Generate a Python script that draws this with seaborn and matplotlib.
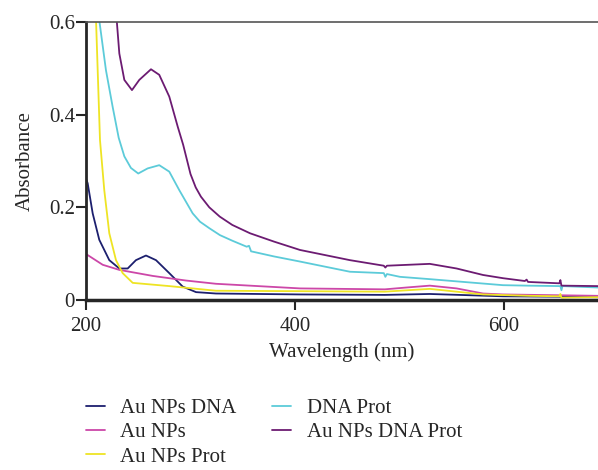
import pandas as pd
import seaborn as sns
import matplotlib.pyplot as plt

# values (wavelength nm, absorbance)
wl_dna = [200, 201.6, 206.4, 212.7, 222.3, 231.9, 239.9, 247.8, 257.4, 267, 279.7, 292.5,
          305.3, 324.4, 405, 486, 529, 599, 655, 690]
abs_dna = [0.262, 0.252, 0.187, 0.130, 0.086, 0.068, 0.068, 0.086, 0.096, 0.086, 0.058, 0.029,
           0.017, 0.014, 0.012, 0.011, 0.013, 0.008, 0.007, 0.006]

wl_np = [200, 201.6, 216, 231.9, 263.8, 295.7, 324.4, 405, 486, 506.9, 529, 554.7, 580, 599, 690]
abs_np = [0.099, 0.097, 0.076, 0.065, 0.052, 0.042, 0.035, 0.025, 0.023, 0.027, 0.031, 0.025,
          0.014, 0.012, 0.009]

wl_prot = [206, 209.6, 213.4, 217.5, 222.3, 228.7, 235.1, 244.7, 279.7, 324.4, 405, 486, 529,
           580, 625, 653, 654, 655, 690]
abs_prot = [0.75, 0.604, 0.345, 0.237, 0.144, 0.086, 0.058, 0.037, 0.030, 0.020, 0.019, 0.018,
            0.024, 0.012, 0.009, 0.008, 0.013, 0.005, 0.006]

wl_dnaprot = [207, 212.7, 219.1, 225.5, 231.3, 236.7, 243, 250, 259, 270.1, 279.7, 289.3,
              302.1, 309.1, 318, 328.2, 340, 353.8, 356, 358, 360.1, 380, 404.8, 452.6, 485,
              486.5, 488, 500.5, 529, 599, 622, 654, 655, 656, 690]
abs_dnaprot = [0.72, 0.604, 0.496, 0.417, 0.350, 0.310, 0.285, 0.273, 0.284, 0.291, 0.277,
               0.237, 0.187, 0.169, 0.155, 0.140, 0.128, 0.115, 0.117, 0.105, 0.104, 0.094,
               0.083, 0.061, 0.058, 0.050, 0.056, 0.050, 0.045, 0.032, 0.031, 0.030, 0.021,
               0.030, 0.027]

wl_all = [227, 229.4, 231.9, 236.7, 244, 251, 262.2, 270.1, 279.7, 287.8, 293, 300, 305, 310,
          318, 328, 340, 357, 380, 404.8, 452.6, 485, 486.5, 488, 529, 554.7, 580, 599.3,
          620, 621.7, 623, 653, 654, 655, 690]
abs_all = [0.66, 0.604, 0.532, 0.475, 0.453, 0.475, 0.498, 0.486, 0.439, 0.374, 0.335, 0.272,
           0.243, 0.223, 0.200, 0.180, 0.162, 0.144, 0.126, 0.108, 0.086, 0.074, 0.070, 0.074,
           0.078, 0.068, 0.054, 0.047, 0.041, 0.044, 0.039, 0.036, 0.043, 0.031, 0.030]

names = ["Au NPs DNA", "Au NPs", "Au NPs Prot", "DNA Prot", "Au NPs DNA Prot"]
colors = ["#1c1f6e", "#cc47a8", "#eee424", "#5ccbd9", "#6c1b72"]
series = [(wl_dna, abs_dna), (wl_np, abs_np), (wl_prot, abs_prot),
          (wl_dnaprot, abs_dnaprot), (wl_all, abs_all)]

sns.set_style("ticks")
plt.rcParams['font.family'] = ['Liberation Serif', 'DejaVu Serif']

fig = plt.figure(figsize=(5.98, 4.70), dpi=100)
ax = fig.add_axes([0.1438, 0.3617, 0.8562, 0.5915])

for (x, y), name, col in zip(series, names, colors):
    df = pd.DataFrame({"Wavelength": x, "Absorbance": y})
    sns.lineplot(data=df, x="Wavelength", y="Absorbance", ax=ax, color=col,
                 linewidth=1.3, label=name, sort=False)

ax.set_xlim(200, 690)
ax.set_ylim(0, 0.6)
ax.set_xticks([200, 400, 600])
ax.set_yticks([0, 0.2, 0.4, 0.6])
ax.set_yticklabels(["0", "0.2", "0.4", "0.6"])
ax.set_xlabel("Wavelength (nm)", fontsize=15, labelpad=5)
ax.set_ylabel("Absorbance", fontsize=15, labelpad=10)
ax.tick_params(labelsize=15, width=1.5, length=7, direction="out")
ax.tick_params(axis="y", pad=1)
ax.tick_params(axis="x", pad=5)

ax.spines['left'].set_linewidth(2)
ax.spines['bottom'].set_linewidth(2.5)
ax.spines['top'].set_linewidth(1.2)
ax.spines['top'].set_color("#555555")
ax.spines['right'].set_visible(False)

ax.legend(loc="upper left", bbox_to_anchor=(0.0, -0.355), ncol=2, frameon=False,
          fontsize=15, handlelength=0.9, columnspacing=1.7, labelspacing=0.22,
          handletextpad=0.75, borderpad=0, borderaxespad=0)

fig.savefig("out.png", dpi=100)
